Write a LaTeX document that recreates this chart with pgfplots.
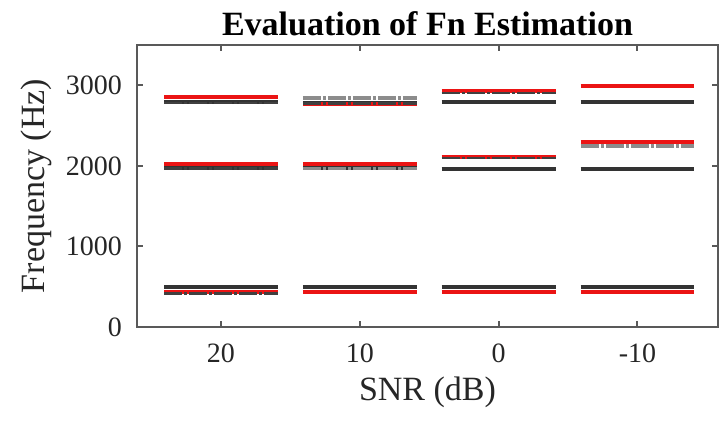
\documentclass[border=0pt]{standalone}
\usepackage{pgfplots}
\pgfplotsset{compat=1.18}
\usepackage{pgfplotstable}
\usetikzlibrary{calc}
\usepackage{fontspec}
\setmainfont{Liberation Serif}
\definecolor{axgray}{gray}{0.35}
\definecolor{myred}{RGB}{235,20,20}

% truth (black solid)
\pgfplotstableread{
x y
0.59 500
1.41 500
nan nan
1.59 500
2.41 500
nan nan
2.59 500
3.41 500
nan nan
3.59 500
4.41 500
nan nan
0.59 1970
1.41 1970
nan nan
1.59 1970
2.41 1970
nan nan
2.59 1965
3.41 1965
nan nan
3.59 1965
4.41 1965
nan nan
0.59 2790
1.41 2790
nan nan
1.59 2780
2.41 2780
nan nan
2.59 2790
3.41 2790
nan nan
3.59 2790
4.41 2790
}\blackdata

% method A (red solid)
\pgfplotstableread{
x y
0.59 430
1.41 430
nan nan
1.59 430
2.41 430
nan nan
2.59 430
3.41 430
nan nan
3.59 430
4.41 430
nan nan
0.59 2025
1.41 2025
nan nan
1.59 2025
2.41 2025
nan nan
2.59 2115
3.41 2115
nan nan
3.59 2290
4.41 2290
nan nan
0.59 2850
1.41 2850
nan nan
1.59 2770
2.41 2770
nan nan
2.59 2925
3.41 2925
nan nan
3.59 2990
4.41 2990
}\reddata

% method B (dark dash-dot)
\pgfplotstableread{
x y
0.59 418
1.41 418
nan nan
0.59 1965
1.41 1965
nan nan
0.59 2782
1.41 2782
nan nan
1.59 2772
2.41 2772
nan nan
2.59 2905
3.41 2905
nan nan
2.59 2098
3.41 2098
}\darkdata

% method C (gray dash-dot)
\pgfplotstableread{
x y
1.59 2840
2.41 2840
nan nan
1.59 1968
2.41 1968
nan nan
3.59 2250
4.41 2250
}\graydata

\begin{document}
\begin{tikzpicture}
\begin{axis}[
  name=ax,
  scale only axis,
  width=290.5pt, height=141pt,
  xmin=0.395, xmax=4.58,
  ymin=0, ymax=3500,
  xtick={1,2,3,4},
  xticklabels={20,10,0,-10},
  ytick={0,1000,2000,3000},
  /pgf/number format/assume math mode=true,
  scaled y ticks=false,
  yticklabel style={/pgf/number format/set thousands separator={}},
  tick align=inside,
  major tick length=3pt,
  tick style={axgray, line width=1pt},
  axis line style={axgray, line width=1.2pt},
  ticklabel style={font=\fontsize{14}{16}\selectfont, text=black!85},
  xticklabel style={yshift=-5pt},
  yticklabel style={xshift=-4pt},
  title={\textbf{Evaluation of Fn Estimation}},
  title style={font=\fontsize{17}{20}\selectfont, yshift=-5pt},
  xlabel={SNR (dB)},
  ylabel={Frequency (Hz)},
  label style={font=\fontsize{17}{20}\selectfont, text=black!85},
  xlabel style={yshift=0pt},
  ylabel style={yshift=0pt},
  unbounded coords=jump,
  clip=false,
]
\addplot[black!80, line width=2pt] table {\blackdata};
\addplot[myred, line width=2pt] table {\reddata};
\addplot[black!75, line width=1.3pt, dash pattern=on 9pt off 1pt on 1.5pt off 1pt] table {\darkdata};
\addplot[black!45, line width=1.8pt, dash pattern=on 9pt off 1pt on 1.5pt off 1pt] table {\graydata};
\end{axis}
\pgfresetboundingbox
\path[use as bounding box] ($(ax.south west)+(-68.5pt,-49.5pt)$) rectangle ($(ax.north east)+(1pt,22.5pt)$);
\end{tikzpicture}
\end{document}
